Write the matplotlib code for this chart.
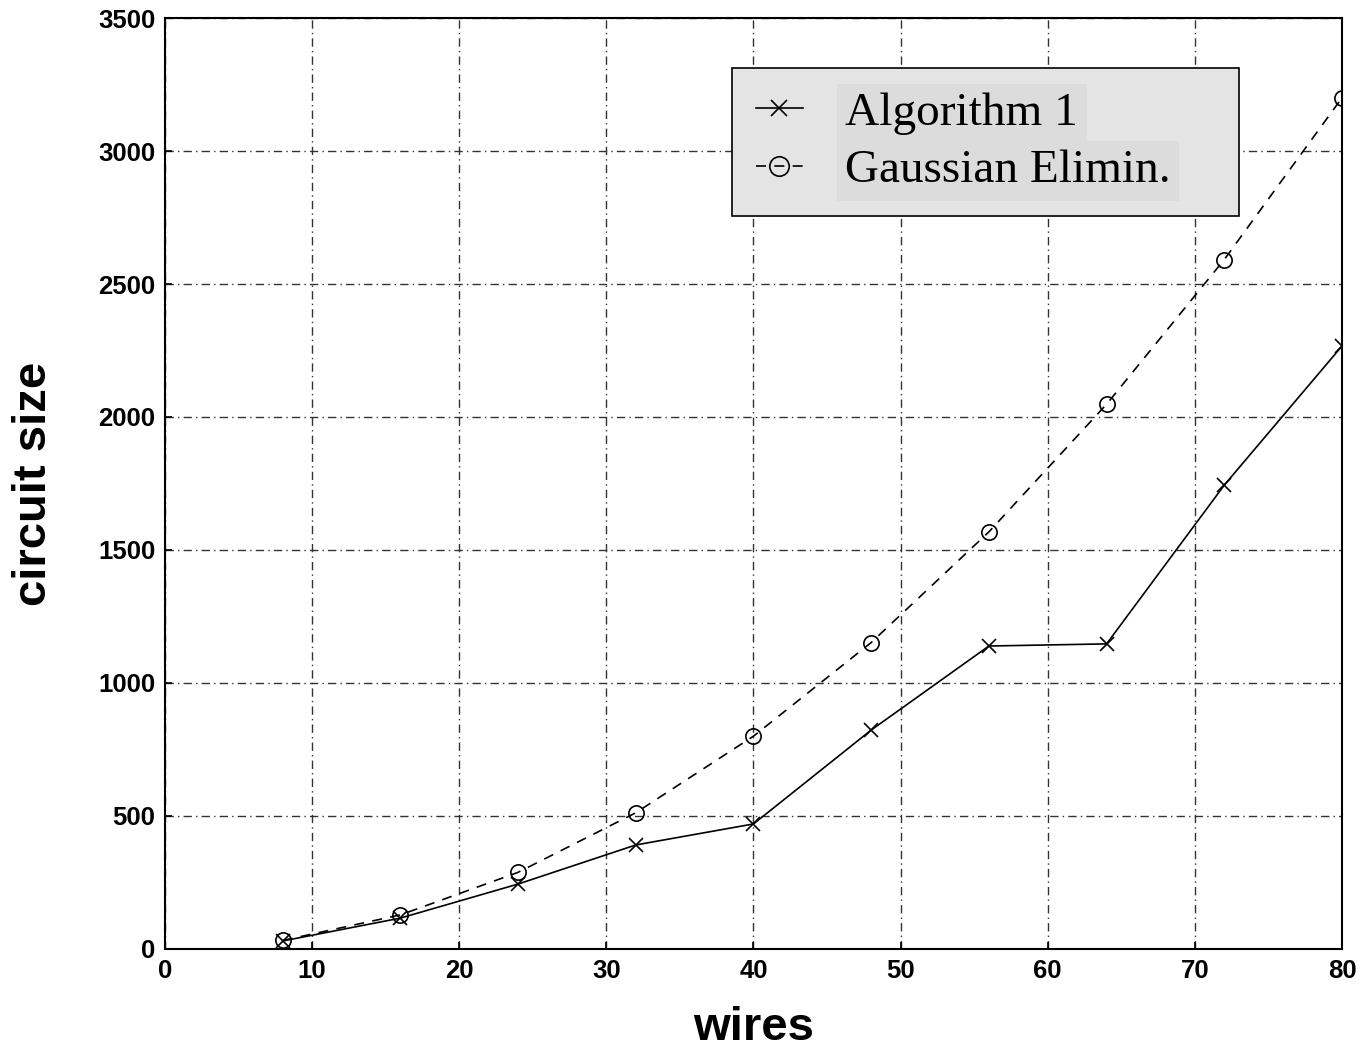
import matplotlib
matplotlib.use("Agg")
import matplotlib.pyplot as plt

wires = [8, 16, 24, 32, 40, 48, 56, 64, 72, 80]
algorithm1 = [30, 116, 244, 391, 470, 823, 1139, 1147, 1744, 2267]
gaussian = [32, 128, 288, 512, 800, 1152, 1568, 2048, 2592, 3200]
xticks = [0, 10, 20, 30, 40, 50, 60, 70, 80]
yticks = [0, 500, 1000, 1500, 2000, 2500, 3000, 3500]

fig = plt.figure(figsize=(13.63, 10.48), dpi=100)
ax = fig.add_axes([0.121, 0.0945, 0.8636, 0.8883])

ax.plot(wires, algorithm1, color='black', lw=1.2, marker='x', ms=10, mew=1.2,
        label='Algorithm 1')
ax.plot(wires, gaussian, color='black', lw=1.2, ls=(0, (6, 5)), marker='o', ms=11,
        mfc='none', mew=1.2, label='Gaussian Elimin.')

ax.set_xlim(0, 80)
ax.set_ylim(0, 3500)
ax.set_xticks(xticks)
ax.set_yticks(yticks)
ax.grid(True, color='#333333', lw=1.0, ls=(0, (6, 3, 1, 3)))
ax.tick_params(direction='in', length=5, width=1.2, labelsize=18.5, pad=7,
               top=False, right=False)
for lab in ax.get_xticklabels() + ax.get_yticklabels():
    lab.set_fontfamily('Liberation Sans')
    lab.set_fontweight('bold')
for s in ax.spines.values():
    s.set_linewidth(1.5)

ax.set_xlabel('wires', fontsize=34, fontweight='bold', family='Liberation Sans', labelpad=17)
ax.set_ylabel('circuit size', fontsize=34, fontweight='bold', family='Liberation Sans', labelpad=30)

leg = ax.legend(loc='upper left', bbox_to_anchor=(0.4817, 0.5, 0.4308, 0.446),
                mode='expand', borderaxespad=0,
                fancybox=False, facecolor='#e4e4e4', edgecolor='black', framealpha=1,
                prop={'family': 'Liberation Serif', 'size': 34},
                handlelength=1.0, handletextpad=0.9, borderpad=0.5, labelspacing=0.3,
                markerscale=1.0)
leg.get_frame().set_linewidth(1.2)
handles = leg.legend_handles
handles[0].set_markersize(11)
handles[1].set_markersize(14)
for t in leg.get_texts():
    t.set_bbox(dict(facecolor='#dcdcdc', edgecolor='none', pad=6))

fig.savefig('out.png', dpi=100)
